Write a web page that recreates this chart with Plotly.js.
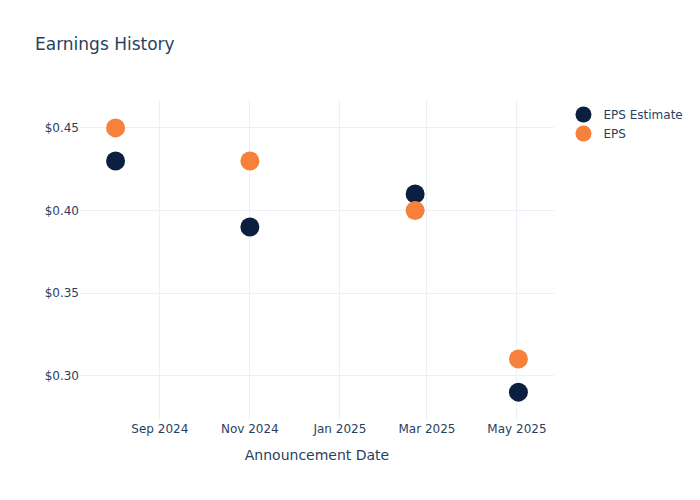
<!DOCTYPE html>
<html>
<head>
<meta charset="utf-8">
<script src="https://cdn.plot.ly/plotly-3.0.1.min.js"></script>
<style>html,body{margin:0;padding:0;background:#fff;}#chart{width:700px;height:500px;}</style>
</head>
<body>
<div id="chart"></div>
<script>
var dates = ["2024-08-02", "2024-11-01", "2025-02-21", "2025-05-02"];
var epsEstimate = [0.43, 0.39, 0.41, 0.29];
var epsActual = [0.45, 0.43, 0.40, 0.31];

var traces = [
  {
    x: dates, y: epsEstimate, type: "scatter", mode: "markers", name: "EPS Estimate",
    marker: {color: "#0b1f41", size: 19}
  },
  {
    x: dates, y: epsActual, type: "scatter", mode: "markers", name: "EPS",
    marker: {color: "#f7803a", size: 19}
  }
];

var layout = {
  width: 700, height: 500,
  template: "plotly_white",
  paper_bgcolor: "#fff", plot_bgcolor: "#fff",
  font: {family: "'DejaVu Sans', verdana, arial, sans-serif", color: "#2a3f5f", size: 12},
  title: {text: "Earnings History", x: 0.05, font: {size: 17, color: "#2a3f5f"}},
  xaxis: {
    title: {text: "Announcement Date", font: {size: 14}, standoff: 15},
    automargin: true,
    type: "date", tickformat: "%b %Y", dtick: "M2",
    gridcolor: "#EBF0F8", zeroline: false, showline: false
  },
  yaxis: {
    tickprefix: "$", tickformat: ".2f", dtick: 0.05,
    gridcolor: "#EBF0F8", zeroline: false, showline: false
  },
  legend: {font: {size: 12}},
  margin: {l: 80, r: 80, t: 100, b: 80}
};

Plotly.newPlot("chart", traces, layout, {displayModeBar: false});
</script>
</body>
</html>
